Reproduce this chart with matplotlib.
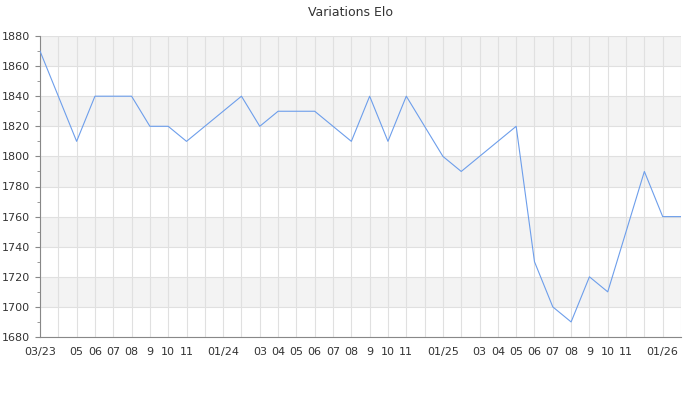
import matplotlib
matplotlib.use("Agg")
import matplotlib.pyplot as plt
from matplotlib.ticker import MultipleLocator

# one value per month, 03/23 -> 02/26
months = ["03/23", "", "05", "06", "07", "08", "9", "10", "11", "", "01/24", "",
          "03", "04", "05", "06", "07", "08", "9", "10", "11", "", "01/25", "",
          "03", "04", "05", "06", "07", "08", "9", "10", "11", "", "01/26", ""]
elo = [1870, 1840, 1810, 1840, 1840, 1840, 1820, 1820, 1810, 1820, 1830, 1840,
       1820, 1830, 1830, 1830, 1820, 1810, 1840, 1810, 1840, 1820, 1800, 1790,
       1800, 1810, 1820, 1730, 1700, 1690, 1720, 1710, 1750, 1790, 1760, 1760]

x = list(range(len(elo)))

fig = plt.figure(figsize=(7, 4), dpi=100)
ax = fig.add_axes([40 / 700, 1 - 337 / 400, 641 / 700, 301 / 400])

# alternating bands
for lo in range(1700, 1880, 40):
    ax.axhspan(lo, lo + 20, color="#f3f3f3", zorder=0, lw=0)

ax.plot(x, elo, color="#6d9eeb", lw=0.8, zorder=3)

ax.set_xlim(0, len(elo) - 1)
ax.set_ylim(1680, 1880)
ax.set_xticks(x)
ax.set_xticklabels(months)
ax.yaxis.set_major_locator(MultipleLocator(20))
ax.yaxis.set_minor_locator(MultipleLocator(10))

ax.grid(True, which="major", color="#e0e0e0", lw=0.8, zorder=1)
ax.set_axisbelow(True)

for s in ["top", "right"]:
    ax.spines[s].set_visible(False)
for s in ["left", "bottom"]:
    ax.spines[s].set_color("#888888")

ax.tick_params(axis="x", length=0, pad=7, labelsize=8, labelcolor="#333333")
ax.tick_params(axis="y", which="major", length=3.5, color="#888888", labelsize=8, labelcolor="#333333")
ax.tick_params(axis="y", which="minor", length=2.5, color="#888888")

fig.suptitle("Variations Elo", y=0.985, fontsize=9, color="#333333")

fig.savefig("out.png", dpi=100)
